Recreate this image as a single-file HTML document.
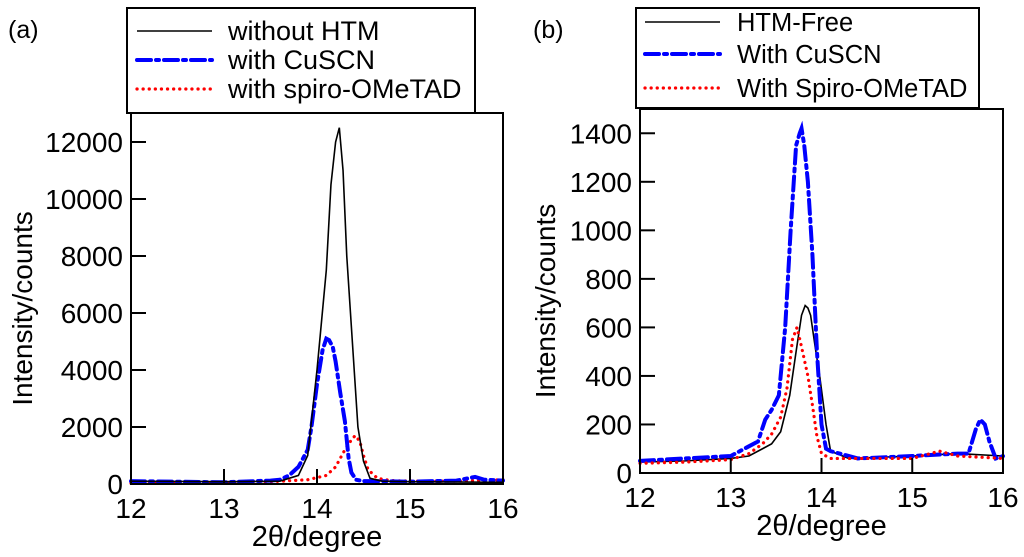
<!DOCTYPE html>
<html><head><meta charset="utf-8"><style>
body{margin:0;background:#fff;}
svg{display:block;font-family:"Liberation Sans",Arial,sans-serif;}
</style></head><body>
<svg id="fig" width="1024" height="557" viewBox="0 0 1024 557" xmlns="http://www.w3.org/2000/svg"></svg>
<script>
// Panel (a) data
const aBlackX=[12,13,13.6,13.8,13.9,14.0,14.1,14.15,14.2,14.24,14.28,14.32,14.38,14.44,14.5,14.57,14.7,15,16];
const aBlackY=[100,80,100,300,1000,4000,7500,10500,12000,12500,11000,8000,5000,2000,800,200,100,80,60];
const aBlueX=[12,13,13.5,13.6,13.7,13.8,13.9,13.94,14.0,14.06,14.1,14.13,14.17,14.2,14.25,14.3,14.34,14.37,14.42,14.5,14.7,15,15.5,15.7,15.8,16];
const aBlueY=[100,60,120,150,300,600,1200,2000,3500,4700,5100,5050,4800,4300,3200,2200,900,400,150,100,100,80,120,250,150,120];
const aRedX=[12,13,13.5,13.9,14.1,14.2,14.3,14.36,14.41,14.46,14.5,14.55,14.65,14.8,15,15.5,16];
const aRedY=[30,50,80,150,300,600,1200,1500,1700,1500,1000,500,200,120,100,100,150];
const aYTicks=[0,2000,4000,6000,8000,10000,12000];
// Panel (b) data
const bBlackX=[12,12.5,13,13.2,13.35,13.45,13.55,13.65,13.72,13.78,13.82,13.85,13.88,13.93,13.98,14.05,14.1,14.3,15,15.5,16];
const bBlackY=[45,50,60,70,100,120,170,320,500,650,690,680,650,520,400,200,90,60,70,80,70];
const bBlueX=[12,12.5,13,13.2,13.3,13.38,13.45,13.53,13.6,13.66,13.72,13.76,13.78,13.81,13.85,13.9,13.95,14.0,14.05,14.1,14.2,14.4,15,15.5,15.62,15.7,15.75,15.8,15.85,15.92,16];
const bBlueY=[50,60,70,110,130,220,260,320,600,1000,1350,1400,1420,1350,1200,900,500,200,100,90,80,60,70,80,80,180,220,200,130,60,70];
const bRedX=[12,12.5,13,13.2,13.35,13.45,13.55,13.62,13.68,13.73,13.78,13.85,13.9,13.95,14.0,14.1,14.3,15,15.3,15.5,16];
const bRedY=[40,45,55,80,120,160,230,350,550,600,520,400,280,150,80,60,60,60,90,70,60];
const bYTicks=[0,200,400,600,800,1000,1200,1400];
const xTicks=[12,13,14,15,16];

const NS="http://www.w3.org/2000/svg";
const svg=document.getElementById('fig');
function el(tag,attrs,parent){const e=document.createElementNS(NS,tag);for(const k in attrs)e.setAttribute(k,attrs[k]);(parent||svg).appendChild(e);return e;}
const styles={
 black:{stroke:"#000","stroke-width":1.6,fill:"none"},
 blue:{stroke:"#0000ff","stroke-width":4,fill:"none","stroke-dasharray":"14 5 3 5","stroke-linecap":"round"},
 red:{stroke:"#ff0000","stroke-width":3.2,fill:"none","stroke-dasharray":"0.1 6","stroke-linecap":"round"}
};
function panel(name,L,R,T,B,ymax,yTicks,series,legend,lbl,lblX,ytX){
 const g=el('g',{});
 
 
 const sx=v=>L+(v-12)/4*(R-L);
 const sy=v=>B-v/ymax*(B-T);
 for(const s of series){
  const p=el('polyline',Object.assign({points:s.x.map((x,i)=>sx(x)+","+sy(s.y[i])).join(" ")},styles[s.c]),g);
  
  
 }
 const fr=el('rect',{x:L,y:T,width:R-L,height:B-T,fill:"none",stroke:"#000","stroke-width":2},g);
 
 
 for(const t of yTicks){
  el('line',{x1:L,x2:L+15,y1:sy(t),y2:sy(t),stroke:"#000","stroke-width":2},g);
  const tx=el('text',{x:L-8,y:sy(t)+10,"text-anchor":"end","font-size":28},g);
  tx.textContent=t;
  
  
 }
 for(const t of xTicks){
  el('line',{x1:sx(t),x2:sx(t),y1:B,y2:B-15,stroke:"#000","stroke-width":2},g);
  const tx=el('text',{x:sx(t),y:B+34,"text-anchor":"middle","font-size":28},g);
  tx.textContent=t;
  
  
 }
 const xt=el('text',{x:(L+R)/2,y:B+62,"text-anchor":"middle","font-size":29},g);
 xt.textContent="2θ/degree";
 
 
 const cy=(T+B)/2+10;
 const yt=el('text',{x:ytX,y:cy,"text-anchor":"middle","font-size":28,transform:`rotate(-90 ${ytX} ${cy})`},g);
 yt.textContent="Intensity/counts";
 
 
 const pl=el('text',{x:lblX,y:38,"font-size":25},g);
 pl.textContent=lbl;
 
 
 const lg=el('g',{},g);
 
 
 el('rect',{x:legend.x,y:legend.y,width:legend.w,height:legend.h,fill:"#fff",stroke:"#000","stroke-width":2},lg);
 legend.items.forEach((it,i)=>{
  const yy=legend.ys[i];
  el('line',Object.assign({x1:legend.lx1,x2:legend.lx2,y1:yy,y2:yy},styles[it.c]),lg);
  const t=el('text',{x:legend.tx,y:yy+9,"font-size":legend.fs},lg);
  t.textContent=it.t;
  
  
 });
}
panel('panel-a',131,503,113,484,13017,aYTicks,
 [{x:aRedX,y:aRedY,c:'red',n:'spiro-series'},{x:aBlueX,y:aBlueY,c:'blue',n:'cuscn-series'},{x:aBlackX,y:aBlackY,c:'black',n:'without-htm-series'}],
 {x:127,y:8,w:348,h:105,lx1:137,lx2:212,tx:228,fs:27,ys:[31,60,89],items:[{c:'black',t:'without HTM'},{c:'blue',t:'with CuSCN'},{c:'red',t:'with spiro-OMeTAD'}]},
 '(a)',8,32);
panel('panel-b',640,1003,109,473,1500,bYTicks,
 [{x:bBlackX,y:bBlackY,c:'black',n:'htm-free-series'},{x:bBlueX,y:bBlueY,c:'blue',n:'cuscn-series'},{x:bRedX,y:bRedY,c:'red',n:'spiro-series'}],
 {x:636,y:8,w:343,h:100,lx1:645,lx2:720,tx:737,fs:25.5,ys:[22,54,88],items:[{c:'black',t:'HTM-Free'},{c:'blue',t:'With CuSCN'},{c:'red',t:'With Spiro-OMeTAD'}]},
 '(b)',533,555);
</script>
</body></html>
